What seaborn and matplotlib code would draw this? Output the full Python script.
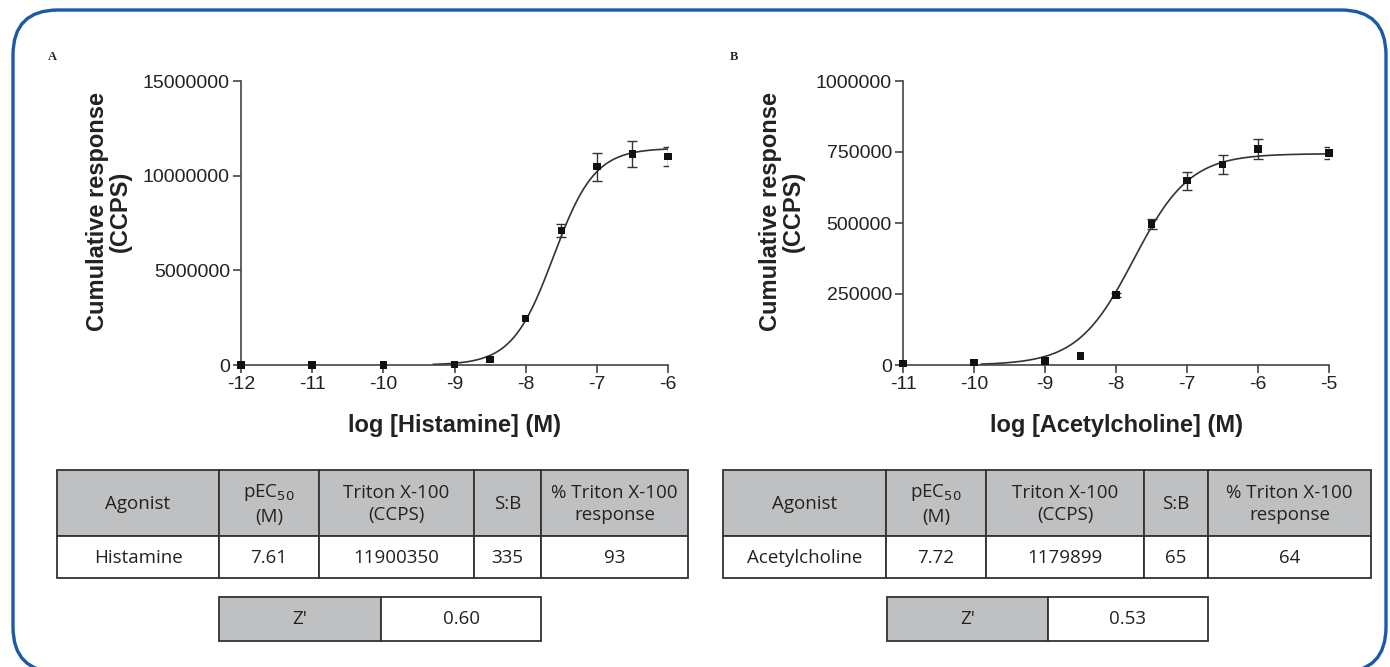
import numpy as np
import pandas as pd
import seaborn as sns
import matplotlib.pyplot as plt
from matplotlib.patches import Rectangle, FancyBboxPatch
from matplotlib.transforms import IdentityTransform

# --- data ---
# Panel A: histamine
hist_logc = [-12, -11, -10, -9, -8.5, -8, -7.5, -7, -6.5, -6]
hist_resp = [0, 0, 0, 30000, 300000, 2450000, 7100000, 10480000, 11150000, 11000000]
hist_err = [0, 0, 0, 0, 0, 0, 330000, 740000, 680000, 510000]
# 4PL fit parameters (bottom, top, logEC50, hill) and plotted range
hist_fit = [0, 11450000, -7.61, 1.5]
hist_fit_range = [-9.3, -6]

# Panel B: acetylcholine
ach_logc = [-11, -10, -9, -8.5, -8, -7.5, -7, -6.5, -6, -5]
ach_resp = [6000, 8000, 14000, 32000, 247000, 496000, 649000, 705000, 761000, 747000]
ach_err = [0, 0, 0, 0, 8000, 18000, 32000, 34000, 34000, 22000]
ach_fit = [0, 744000, -7.75, 1.1]
ach_fit_range = [-9.9, -5]

# tables
table_header = ["Agonist", "pEC$_{50}$\n(M)", "Triton X-100\n(CCPS)", "S:B", "% Triton X-100\nresponse"]
hist_row = ["Histamine", "7.61", "11900350", "335", "93"]
ach_row = ["Acetylcholine", "7.72", "1179899", "65", "64"]
hist_z = "0.60"
ach_z = "0.53"

sns.set_theme(style="ticks")
plt.rcParams['font.family'] = ['Liberation Sans', 'DejaVu Sans']

fig = plt.figure(figsize=(13.9, 6.67), dpi=100)

# overlay in pixel coordinates (y down) for the tables
ov = fig.add_axes([0, 0, 1, 1])
ov.set_xlim(0, 1390)
ov.set_ylim(667, 0)
ov.axis('off')

# rounded frame, drawn in display pixels (y up), bottom runs off the page
fig.patches.append(FancyBboxPatch((13, -5), 1373, 662, boxstyle="round,pad=0,rounding_size=45",
                                  fc='none', ec='#1a5aa6', lw=2.4, transform=IdentityTransform(),
                                  figure=fig))

grey = '#bfc0c2'
narrow = ['Liberation Sans Narrow', 'Open Sans', 'DejaVu Sans']


def draw_table(edges, row, z, zedges):
    top, mid, bot = 470, 536, 578
    for i in range(len(edges) - 1):
        x0, x1 = edges[i], edges[i + 1]
        ov.add_patch(Rectangle((x0, top), x1 - x0, mid - top, fc=grey, ec='#333333', lw=1.3))
        ov.add_patch(Rectangle((x0, mid), x1 - x0, bot - mid, fc='white', ec='#333333', lw=1.3))
        cx = (x0 + x1) / 2
        ov.text(cx, (top + mid) / 2 + 1, table_header[i], ha='center', va='center',
                fontsize=13.5, family=narrow, color='#222222', linespacing=1.35)
        ov.text(cx, (mid + bot) / 2 + 1, row[i], ha='center', va='center',
                fontsize=13.5, family=narrow, color='#222222')
    zt, zb = 597, 641
    ov.add_patch(Rectangle((zedges[0], zt), zedges[1] - zedges[0], zb - zt, fc=grey, ec='#333333', lw=1.3))
    ov.add_patch(Rectangle((zedges[1], zt), zedges[2] - zedges[1], zb - zt, fc='white', ec='#333333', lw=1.3))
    ov.text((zedges[0] + zedges[1]) / 2, (zt + zb) / 2, "Z'", ha='center', va='center',
            fontsize=13.5, family=narrow, color='#222222')
    ov.text((zedges[1] + zedges[2]) / 2, (zt + zb) / 2, z, ha='center', va='center',
            fontsize=13.5, family=narrow, color='#222222')


draw_table([57, 219, 319, 474, 541, 688], hist_row, hist_z, [219, 381, 541])
draw_table([723, 886, 986, 1144, 1208, 1371], ach_row, ach_z, [887, 1048, 1208])

ov.text(48, 57, "A", fontsize=9, fontweight='bold', family='Liberation Serif', va='center')
ov.text(730, 57, "B", fontsize=9, fontweight='bold', family='Liberation Serif', va='center')


def dose_panel(rect, logc, resp, err, fit, fit_range, xticks, yticks, xlabel):
    ax = fig.add_axes(rect)
    ax.patch.set_alpha(0)
    df = pd.DataFrame({"logc": logc, "resp": resp, "err": err})
    bottom, top, logec50, hill = fit
    xs = np.linspace(fit_range[0], fit_range[1], 300)
    curve = pd.DataFrame({"logc": xs,
                          "resp": bottom + (top - bottom) / (1 + 10 ** ((logec50 - xs) * hill))})
    sns.lineplot(data=curve, x="logc", y="resp", ax=ax, color='#333333', lw=1.2)
    bars = df[df.err > 0]
    ax.errorbar(bars.logc, bars.resp, yerr=bars.err, fmt='none', ecolor='#333333',
                elinewidth=1.0, capsize=3.5, capthick=1.0)
    sns.scatterplot(data=df, x="logc", y="resp", ax=ax, marker='s', s=28,
                    color='#111111', edgecolor='none', zorder=5, clip_on=False)
    ax.set_xlim(xticks[0], xticks[-1])
    ax.set_ylim(yticks[0], yticks[-1])
    ax.set_xticks(xticks)
    ax.set_yticks(yticks)
    ax.set_xticklabels([str(t) for t in xticks])
    ax.set_yticklabels([str(t) for t in yticks])
    sns.despine(ax=ax)
    for s in ['left', 'bottom']:
        ax.spines[s].set_color('#444444')
        ax.spines[s].set_linewidth(1.2)
    ax.tick_params(length=6, width=1.2, color='#444444', labelsize=14, labelcolor='#222222', pad=2)
    ax.set_xlabel(xlabel, fontsize=17, fontweight='bold', color='#222222', labelpad=15)
    ax.set_ylabel("Cumulative response\n(CCPS)", fontsize=17, fontweight='bold',
                  color='#222222', labelpad=8, linespacing=1.0)
    ax.yaxis.label.set_y(0.54)
    return ax


dose_panel([241 / 1390, 1 - 365 / 667, 427 / 1390, 284 / 667],
           hist_logc, hist_resp, hist_err, hist_fit, hist_fit_range,
           [-12, -11, -10, -9, -8, -7, -6], [0, 5000000, 10000000, 15000000],
           "log [Histamine] (M)")
dose_panel([903 / 1390, 1 - 365 / 667, 426 / 1390, 284 / 667],
           ach_logc, ach_resp, ach_err, ach_fit, ach_fit_range,
           [-11, -10, -9, -8, -7, -6, -5], [0, 250000, 500000, 750000, 1000000],
           "log [Acetylcholine] (M)")

fig.savefig("out.png", dpi=100)
